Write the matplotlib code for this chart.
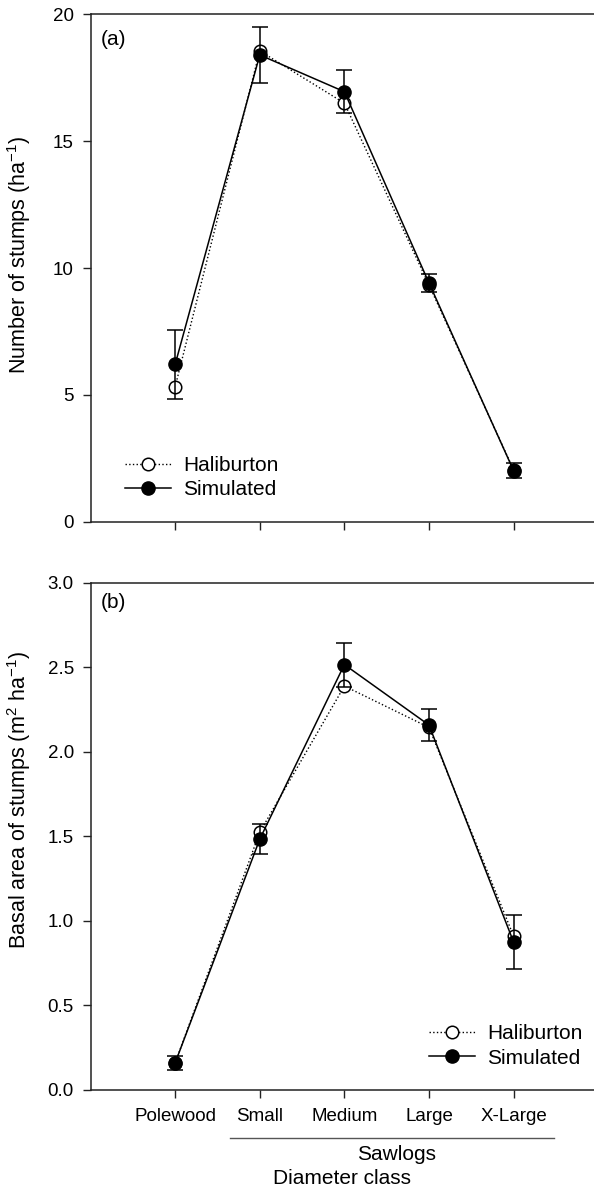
import numpy as np
import matplotlib.pyplot as plt
from matplotlib import transforms

plt.rcParams['font.family'] = ['Liberation Sans', 'DejaVu Sans']
plt.rcParams['font.size'] = 15
plt.rcParams['mathtext.fontset'] = 'custom'
plt.rcParams['mathtext.rm'] = 'Liberation Sans'
plt.rcParams['mathtext.it'] = 'Liberation Sans:italic'

# clases diametricas
clases = ["Polewood", "Small", "Medium", "Large", "X-Large"]
x = np.arange(1, 6)

# (a) numero de tocones por ha
hal_n = [5.32, 18.56, 16.50, 9.33, 2.04]
sim_n = [6.20, 18.40, 16.95, 9.41, 2.01]
sim_n_err = [1.35, 1.10, 0.85, 0.37, 0.30]

# (b) area basal de tocones
hal_ba = [0.16, 1.525, 2.39, 2.145, 0.91]
sim_ba = [0.16, 1.484, 2.517, 2.159, 0.875]
sim_ba_err = [0.042, 0.09, 0.13, 0.097, 0.16]

fig = plt.figure(figsize=(5.94, 11.97), dpi=100)
ax1 = fig.add_axes([0.1524, 0.5642, 0.8476, 0.4238])
ax2 = fig.add_axes([0.1524, 0.0894, 0.8476, 0.4236])

def panel(ax, hal, sim, err):
    l1, = ax.plot(x, hal, linestyle=':', color='black', linewidth=1.0,
                  marker='o', markersize=9, markerfacecolor='white',
                  markeredgecolor='black', markeredgewidth=1.1,
                  label='Haliburton', zorder=2)
    ax.errorbar(x, sim, yerr=err, fmt='none', ecolor='black', elinewidth=1.1,
                capsize=5.5, capthick=1.1, zorder=3)
    l2, = ax.plot(x, sim, linestyle='-', color='black', linewidth=1.1,
                  marker='o', markersize=9.5, markerfacecolor='black',
                  markeredgecolor='black', label='Simulated', zorder=4)
    ax.set_xlim(0, 5.95)
    ax.set_xticks(x)
    ax.spines['right'].set_visible(False)
    for s in ['left', 'top', 'bottom']:
        ax.spines[s].set_linewidth(1.1)
        ax.spines[s].set_color('#222222')
    ax.tick_params(direction='out', length=6, width=1.0, color='#222222',
                   labelsize=13.5)
    ax.tick_params(axis='y', pad=6)
    ax.tick_params(axis='x', pad=7)
    return l1, l2

h1 = panel(ax1, hal_n, sim_n, sim_n_err)
ax1.set_ylim(0, 20)
ax1.set_yticks([0, 5, 10, 15, 20])
ax1.set_xticklabels([])
ax1.set_ylabel("Number of stumps (ha$^{\\mathregular{-1}}$)", fontsize=15.5)
ax1.yaxis.set_label_coords(-0.114, 0.526)
ax1.text(0.02, 0.951, "(a)", transform=ax1.transAxes, ha='left', va='center')
ax1.legend(handles=list(h1), loc='center left', bbox_to_anchor=(0.2104, 0.6011),
           bbox_transform=fig.transFigure, frameon=False, borderpad=0,
           borderaxespad=0, handlelength=2.2, handletextpad=0.6,
           labelspacing=0.25, numpoints=1)

h2 = panel(ax2, hal_ba, sim_ba, sim_ba_err)
ax2.set_ylim(0, 3.0)
ax2.set_yticks(np.arange(0, 3.01, 0.5))
ax2.set_yticklabels(["%.1f" % v for v in np.arange(0, 3.01, 0.5)])
ax2.set_xticklabels(clases)
ax2.set_ylabel("Basal area of stumps (m$^{\\mathregular{2}}$ ha$^{\\mathregular{-1}}$)",
               fontsize=15.5)
ax2.yaxis.set_label_coords(-0.114, 0.572)
ax2.text(0.02, 0.9615, "(b)", transform=ax2.transAxes, ha='left', va='center')
ax2.legend(handles=list(h2), loc='center left', bbox_to_anchor=(0.7222, 0.1262),
           bbox_transform=fig.transFigure, frameon=False, borderpad=0,
           borderaxespad=0, handlelength=2.2, handletextpad=0.6,
           labelspacing=0.25, numpoints=1)

# linea de "Sawlogs" debajo de las etiquetas
trans = transforms.blended_transform_factory(ax2.transData, ax2.transAxes)
ax2.plot([1.65, 5.48], [-0.094, -0.094], color='#555555', linewidth=1.0,
         transform=trans, clip_on=False)
ax2.text(3.62, -0.128, "Sawlogs", transform=trans, ha='center', va='center')
ax2.set_xlabel("Diameter class")
ax2.xaxis.label.set_va('center')
ax2.xaxis.set_label_coords(0.5, -0.174)

plt.savefig("out.png", dpi=100)
